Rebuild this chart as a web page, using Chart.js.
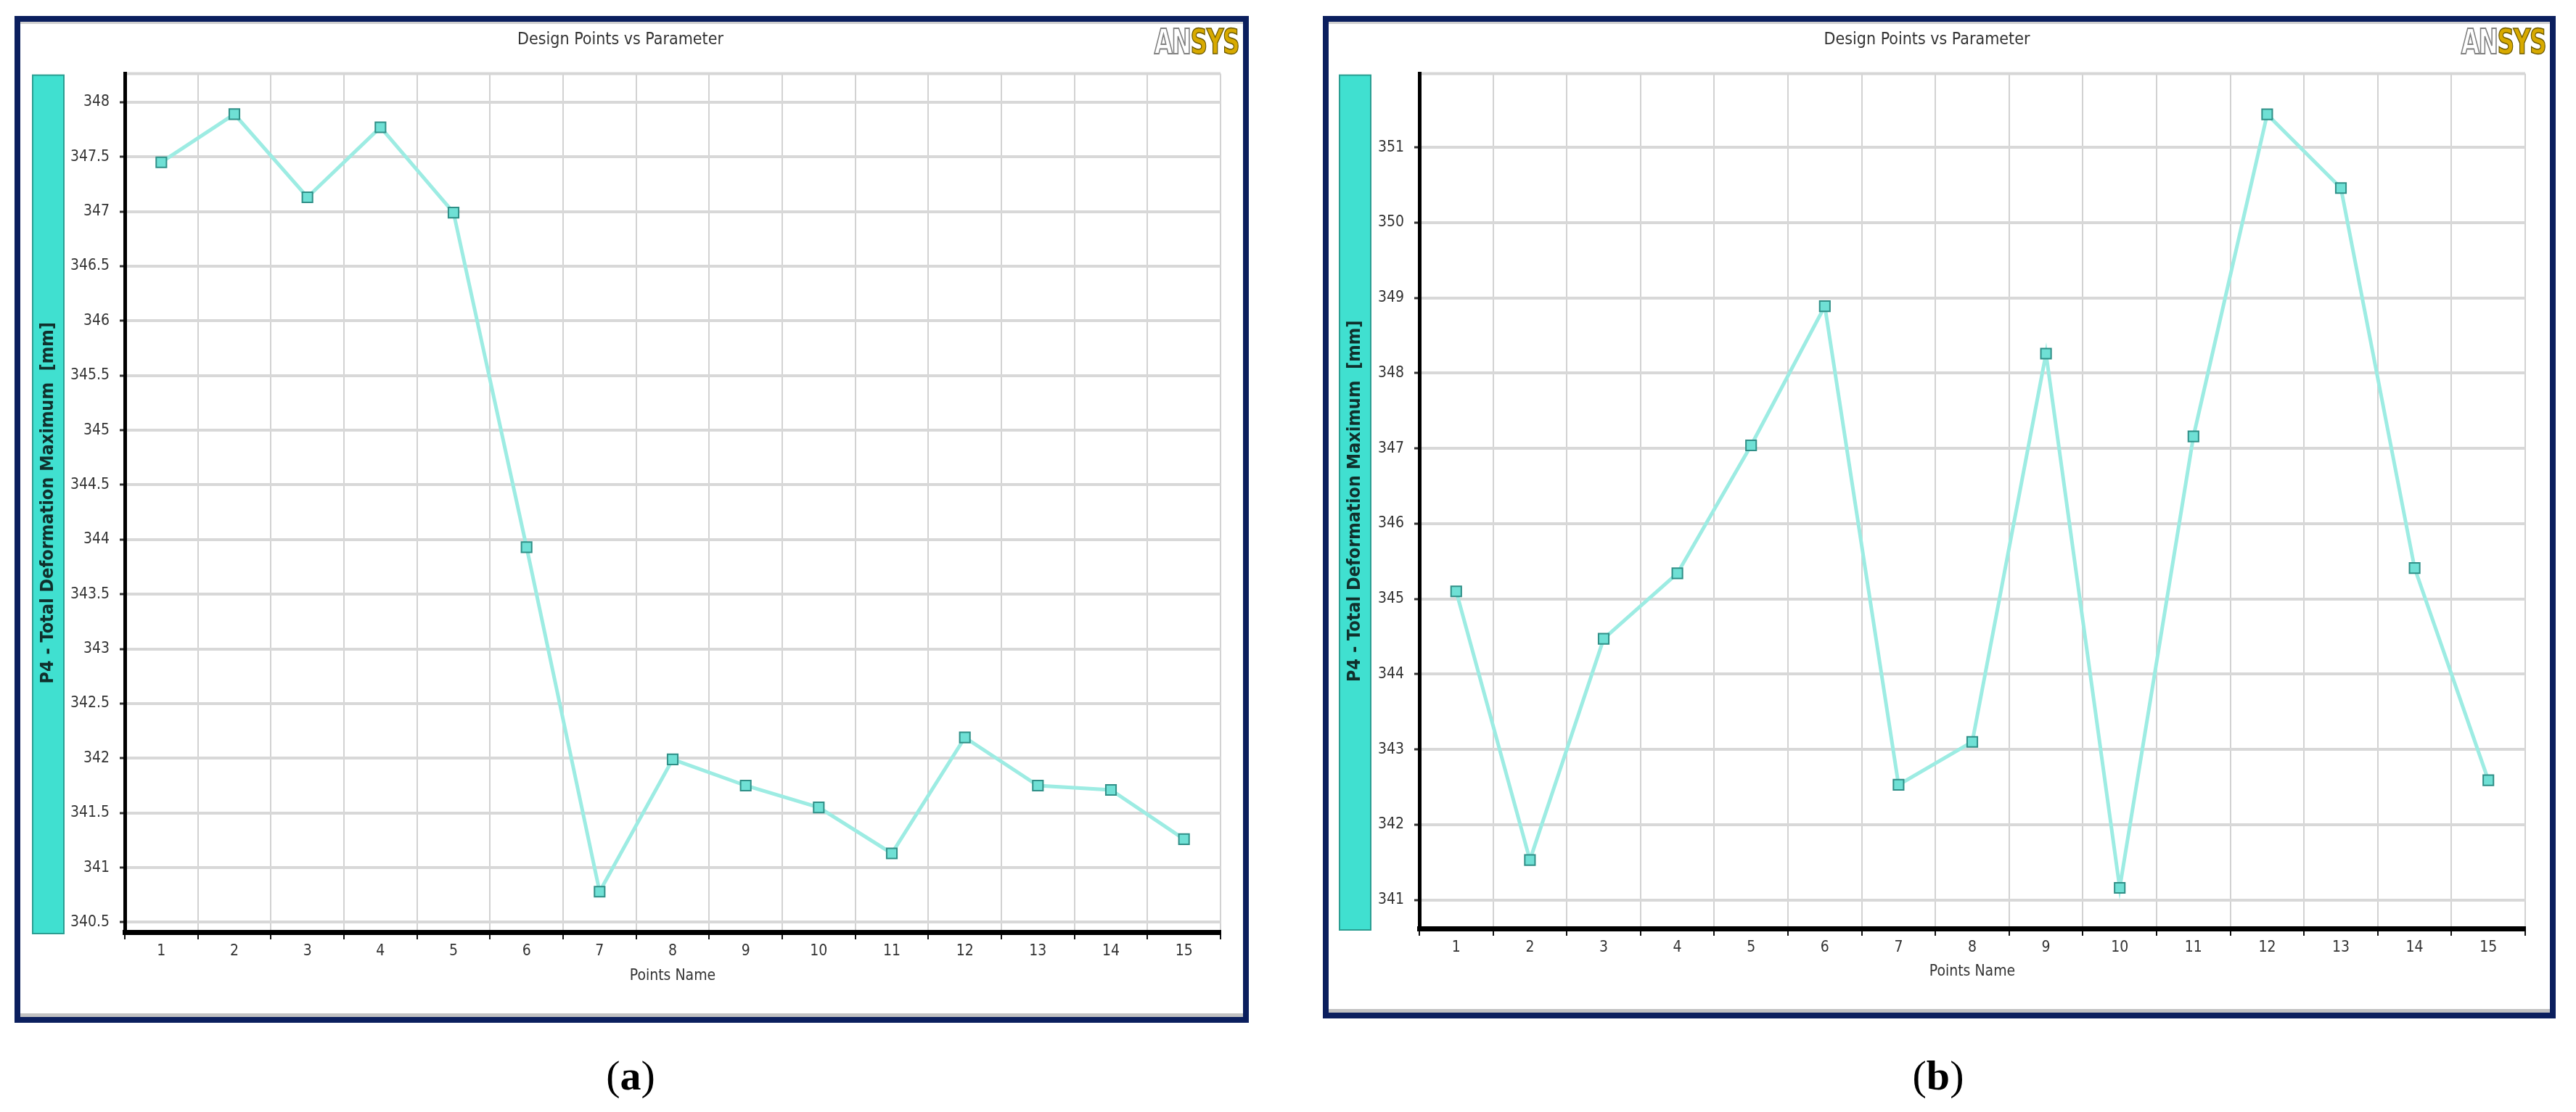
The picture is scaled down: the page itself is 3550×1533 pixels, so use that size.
<!DOCTYPE html>
<html>
<head>
<meta charset="utf-8">
<script src="https://cdn.jsdelivr.net/npm/chart.js@4.4.1/dist/chart.umd.min.js"></script>
<style>
  html, body { margin: 0; padding: 0; background: #fff; }
  body { width: 3550px; height: 1533px; position: relative; overflow: hidden; }
  .panel {
    position: absolute; box-sizing: border-box; background: #fff;
    border: 8px solid #0b1f5e;
    box-shadow: inset 0 3px 0 #d0d0d0, inset 0 -5px 0 #c2c2c2;
  }
  .panel canvas { position: absolute; left: 0; top: 0; }
  .logo {
    position: absolute; font-family: "DejaVu Sans Condensed", "DejaVu Sans", sans-serif;
    font-weight: bold; font-size: 48px; line-height: 1; letter-spacing: -2px;
    transform: scaleX(0.76); transform-origin: right top; white-space: nowrap;
  }
  .logo .an { color: #fff; -webkit-text-stroke: 2px #808080; }
  .logo .sys { color: #d8aa00; -webkit-text-stroke: 1.5px #6a5800; }
  .cap {
    position: absolute; font-family: "Liberation Serif", "DejaVu Serif", serif;
    font-size: 58px; line-height: 1; transform: translateX(-50%); color: #000;
  }
</style>
</head>
<body>
<div class="panel" id="panelA" style="left:20px; top:22px; width:1701px; height:1388px;">
  <canvas id="chartA" width="1685" height="1372"></canvas>
  <div class="logo" style="right:6px; top:3px;"><span class="an">AN</span><span class="sys">SYS</span></div>
</div>
<div class="panel" id="panelB" style="left:1823px; top:22px; width:1699px; height:1382px;">
  <canvas id="chartB" width="1683" height="1366"></canvas>
  <div class="logo" style="right:6px; top:3px;"><span class="an">AN</span><span class="sys">SYS</span></div>
</div>
<div class="cap" style="left:869px; top:1454px;">(<b>a</b>)</div>
<div class="cap" style="left:2671px; top:1454px;">(<b>b</b>)</div>

<script>
// design points
const pointNames = ["1", "2", "3", "4", "5", "6", "7", "8", "9", "10", "11", "12", "13", "14", "15"];

// (a) P4 - Total Deformation Maximum [mm]
const deformationA = [347.45, 347.89, 347.13, 347.77, 346.99, 343.93, 340.78, 341.99, 341.75, 341.55, 341.13, 342.19, 341.75, 341.71, 341.26];
const yTicksA = [340.5, 341, 341.5, 342, 342.5, 343, 343.5, 344, 344.5, 345, 345.5, 346, 346.5, 347, 347.5, 348];

// (b) P4 - Total Deformation Maximum [mm]
const deformationB = [345.10, 341.53, 344.47, 345.34, 347.04, 348.89, 342.53, 343.10, 348.26, 341.16, 347.16, 351.44, 350.46, 345.41, 342.59];
const yTicksB = [341, 342, 343, 344, 345, 346, 347, 348, 349, 350, 351];

const FONT = '"DejaVu Sans Condensed", "DejaVu Sans", sans-serif';
const Y_TITLE_SIZE = 25;
const BAR_W = 43;

// teal bar behind the y title + grey top edge of the plot
const framePlugin = {
  id: 'frame',
  beforeDraw(chart, args, opts) {
    const { ctx, chartArea: a } = chart;
    ctx.save();
    ctx.fillStyle = '#40e0d0';
    ctx.fillRect(opts.barX, a.top + 2, BAR_W, a.bottom - a.top);
    ctx.strokeStyle = '#2b9e92';
    ctx.lineWidth = 2;
    ctx.strokeRect(opts.barX, a.top + 2, BAR_W, a.bottom - a.top);
    ctx.restore();
  },
  beforeDatasetsDraw(chart) {
    const { ctx, chartArea: a } = chart;
    ctx.save();
    ctx.strokeStyle = '#d6d6d6';
    ctx.lineWidth = 4;
    ctx.beginPath();
    ctx.moveTo(a.left + 3, a.top);
    ctx.lineTo(a.right, a.top);
    ctx.stroke();
    ctx.restore();
  }
};

function makeChart(id, values, yTicks, yMin, yMax, yAxisW, xAxisH, barX, rightPad) {
  return new Chart(document.getElementById(id), {
    type: 'line',
    data: {
      labels: pointNames,
      datasets: [{
        data: values,
        borderColor: '#9decE3',
        borderWidth: 5,
        tension: 0,
        pointStyle: 'rect',
        pointRadius: 10,
        pointBackgroundColor: '#6fe0d5',
        pointBorderColor: '#2f8f87',
        pointBorderWidth: 2
      }]
    },
    options: {
      responsive: false,
      animation: false,
      devicePixelRatio: 1,
      layout: { padding: { left: 0, right: rightPad, top: 0, bottom: 0 } },
      plugins: {
        legend: { display: false },
        tooltip: { enabled: false },
        title: {
          display: true,
          text: 'Design Points vs Parameter',
          color: '#333',
          font: { family: FONT, size: 23, weight: 'normal' },
          padding: { top: 11, bottom: 33 }
        },
        frame: { barX: barX }
      },
      scales: {
        x: {
          type: 'category',
          offset: true,
          grid: { offset: true, color: '#d2d2d2', lineWidth: 2, tickColor: '#111', tickWidth: 2, tickLength: 10 },
          border: { display: true, color: '#000', width: 7 },
          ticks: { color: '#333', font: { family: FONT, size: 21 }, padding: 4, maxRotation: 0 },
          title: { display: true, text: 'Points Name', color: '#333', font: { family: FONT, size: 21 }, padding: { top: 0, bottom: 44 } },
          afterFit(scale) { scale.height = xAxisH; }
        },
        y: {
          type: 'linear',
          min: yMin,
          max: yMax,
          afterBuildTicks(scale) { scale.ticks = yTicks.map(v => ({ value: v })); },
          grid: { color: '#d8d8d8', lineWidth: 4, tickColor: '#333', tickWidth: 3, tickLength: 7 },
          border: { display: true, color: '#000', width: 5 },
          ticks: { color: '#333', font: { family: FONT, size: 21 }, padding: 14, callback: v => String(v) },
          title: {
            display: true,
            text: 'P4 - Total Deformation Maximum  [mm]',
            color: '#10302c',
            font: { family: FONT, size: Y_TITLE_SIZE, weight: 'bold' },
            padding: { top: barX + BAR_W / 2 - Y_TITLE_SIZE * 0.6, bottom: 0 }
          },
          afterFit(scale) { scale.width = yAxisW; }
        }
      }
    },
    plugins: [framePlugin]
  });
}

makeChart('chartA', deformationA, yTicksA, 340.41, 348.26, 144, 117, 17, 31);
makeChart('chartB', deformationB, yTicksB, 340.62, 351.98, 125, 116, 15, 34);
</script>
</body>
</html>
